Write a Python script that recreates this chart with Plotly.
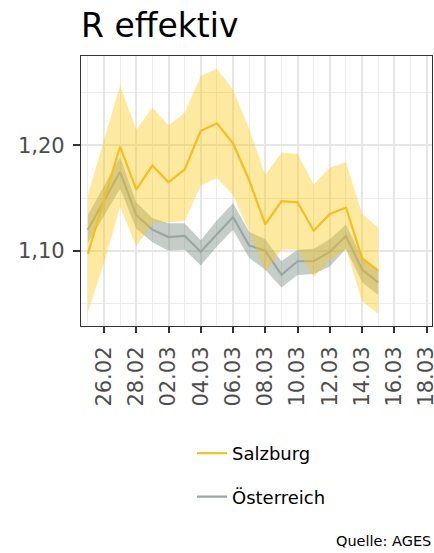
import plotly.graph_objects as go

dates = ["2021-02-25", "2021-02-26", "2021-02-27", "2021-02-28", "2021-03-01",
         "2021-03-02", "2021-03-03", "2021-03-04", "2021-03-05", "2021-03-06",
         "2021-03-07", "2021-03-08", "2021-03-09", "2021-03-10", "2021-03-11",
         "2021-03-12", "2021-03-13", "2021-03-14", "2021-03-15"]

sbg_r = [1.097, 1.148, 1.199, 1.158, 1.181, 1.165, 1.177, 1.214, 1.221, 1.202,
         1.167, 1.125, 1.147, 1.146, 1.119, 1.135, 1.141, 1.093, 1.081]
sbg_hi = [1.153, 1.205, 1.257, 1.215, 1.236, 1.219, 1.231, 1.266, 1.273, 1.253,
          1.216, 1.172, 1.193, 1.192, 1.163, 1.179, 1.184, 1.135, 1.122]
sbg_lo = [1.041, 1.088, 1.142, 1.104, 1.126, 1.127, 1.128, 1.162, 1.169, 1.153,
          1.118, 1.080, 1.101, 1.101, 1.075, 1.091, 1.102, 1.052, 1.040]

aut_r = [1.120, 1.147, 1.175, 1.134, 1.120, 1.113, 1.114, 1.099, 1.116, 1.132,
         1.105, 1.100, 1.077, 1.090, 1.090, 1.099, 1.114, 1.082, 1.070]
aut_hi = [1.134, 1.162, 1.189, 1.146, 1.131, 1.126, 1.126, 1.110, 1.129, 1.145,
          1.118, 1.111, 1.090, 1.101, 1.102, 1.111, 1.125, 1.093, 1.082]
aut_lo = [1.107, 1.133, 1.159, 1.121, 1.108, 1.100, 1.101, 1.086, 1.104, 1.120,
          1.093, 1.082, 1.065, 1.077, 1.078, 1.085, 1.102, 1.070, 1.058]

series_names = ["Salzburg", "Österreich"]
title_text = "R effektiv"
source_text = "Quelle: AGES"

FONT = "DejaVu Sans"
col_sbg = "#f2bf1f"
col_aut = "#9ca5a1"

fig = go.Figure()

# Österreich ribbon + line
fig.add_trace(go.Scatter(
    x=dates + dates[::-1], y=aut_hi + aut_lo[::-1], fill="toself",
    fillcolor="rgba(110,130,120,0.40)", line=dict(width=0),
    hoverinfo="skip", showlegend=False, legendgroup="aut"))
fig.add_trace(go.Scatter(
    x=dates, y=aut_r, mode="lines", name=series_names[1],
    line=dict(color=col_aut, width=2.2), legendgroup="aut", legendrank=2))

# Salzburg ribbon + line
fig.add_trace(go.Scatter(
    x=dates + dates[::-1], y=sbg_hi + sbg_lo[::-1], fill="toself",
    fillcolor="rgba(253,200,20,0.40)", line=dict(width=0),
    hoverinfo="skip", showlegend=False, legendgroup="sbg"))
fig.add_trace(go.Scatter(
    x=dates, y=sbg_r, mode="lines", name=series_names[0],
    line=dict(color=col_sbg, width=2.2), legendgroup="sbg", legendrank=1))

fig.update_layout(
    width=434, height=553,
    margin=dict(l=81, r=2, t=56, b=227, autoexpand=False),
    paper_bgcolor="white", plot_bgcolor="white",
    separators=",.",
    font=dict(family=FONT, color="#4d4d4d"),
    title=dict(text=title_text, x=0, xref="paper", xanchor="left",
               y=1 - 25 / 553, yref="container", yanchor="middle",
               font=dict(family=FONT, size=33, color="black")),
    showlegend=True,
    legend=dict(orientation="v", x=(192 - 81) / 351, xanchor="left",
                y=(326 - 435) / 270, yanchor="top",
                font=dict(family=FONT, size=18, color="black"),
                tracegroupgap=17, traceorder="grouped",
                bgcolor="rgba(0,0,0,0)"),
    annotations=[dict(text=source_text, xref="paper", yref="paper",
                      x=(433 - 81) / 351, y=(326 - 541) / 270,
                      xanchor="right", yanchor="middle", showarrow=False,
                      font=dict(family=FONT, size=14.5, color="black"))],
)

fig.update_xaxes(
    type="date",
    range=["2021-02-24 13:50", "2021-03-18 08:00"],
    tick0="2021-02-26", dtick=2 * 86400000, tickformat="%d.%m",
    tickangle=-90, tickfont=dict(family=FONT, size=21, color="#4d4d4d"),
    ticks="outside", ticklen=6, tickwidth=1.8, tickcolor="#333333",
    ticklabelstandoff=5, ticklabeloverflow="allow",
    showgrid=True, gridcolor="#e6e6e6", gridwidth=1.5,
    minor=dict(dtick=86400000, tick0="2021-02-25", showgrid=True,
               gridcolor="#ececec", gridwidth=1),
    showline=True, linecolor="#333333", linewidth=1.2, mirror=True,
    zeroline=False, automargin=False,
)
fig.update_yaxes(
    range=[1.0285, 1.285],
    tick0=1.0, dtick=0.1, tickformat=".2f",
    tickfont=dict(family=FONT, size=21, color="#4d4d4d"),
    ticks="outside", ticklen=7, tickwidth=1.8, tickcolor="#333333",
    ticklabelstandoff=4,
    showgrid=True, gridcolor="#e6e6e6", gridwidth=1.5,
    minor=dict(dtick=0.05, tick0=1.0, showgrid=True,
               gridcolor="#ececec", gridwidth=1),
    showline=True, linecolor="#333333", linewidth=1.2, mirror=True,
    zeroline=False, automargin=False,
)

fig.write_html("out.html",
               config={"displayModeBar": False},
               post_script="document.body.style.margin='0';"
                           "document.body.style.overflow='hidden';")
